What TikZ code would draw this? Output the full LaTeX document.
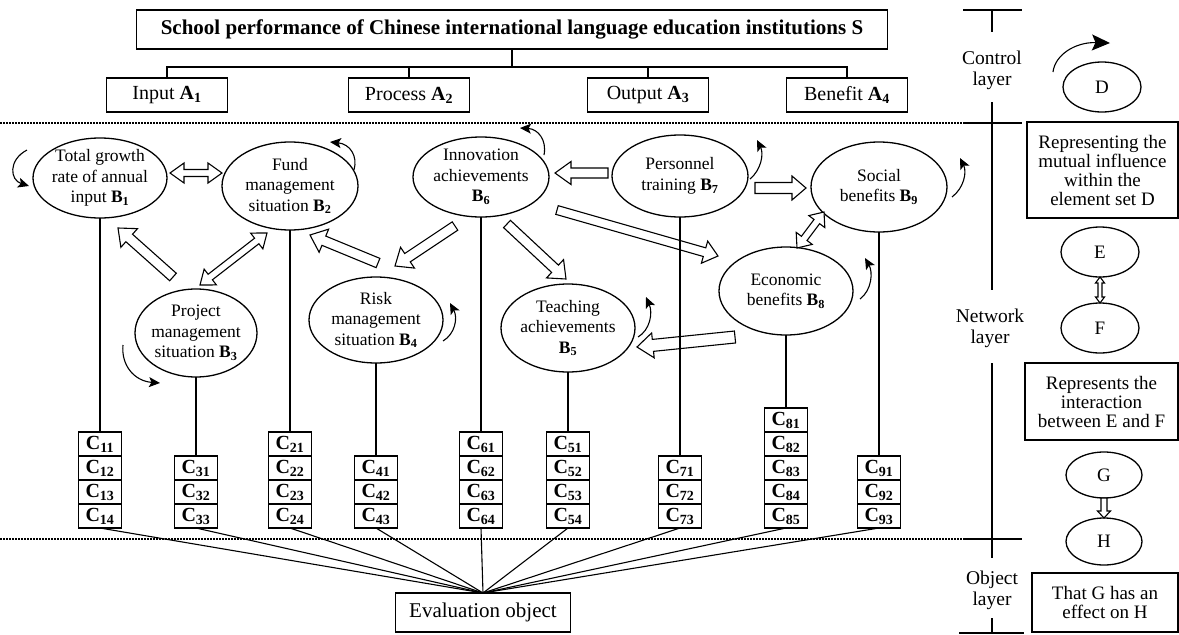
\documentclass[tikz,border=0pt]{standalone}
\usepackage{fontspec}
\setmainfont{Liberation Serif}
\usetikzlibrary{shapes.geometric,calc,arrows.meta}
\newcommand\blkarrow[5]{%
  \coordinate (hh) at ($(#2)!#5!(#1)$);
  \draw[blk] ($(#1)!#3!90:(#2)$) -- ($(hh)!#3!90:(#2)$) -- ($(hh)!#4!90:(#2)$) -- (#2) -- ($(hh)!#4!-90:(#2)$) -- ($(hh)!#3!-90:(#2)$) -- ($(#1)!#3!-90:(#2)$) -- cycle;}
\newcommand\dblarrow[5]{%
  \coordinate (ha) at ($(#1)!#5!(#2)$);
  \coordinate (hb) at ($(#2)!#5!(#1)$);
  \draw[blk] (#1) -- ($(ha)!#4!90:(#2)$) -- ($(ha)!#3!90:(#2)$) -- ($(hb)!#3!90:(#2)$) -- ($(hb)!#4!90:(#2)$) -- (#2) -- ($(hb)!#4!-90:(#2)$) -- ($(hb)!#3!-90:(#2)$) -- ($(ha)!#3!-90:(#2)$) -- ($(ha)!#4!-90:(#2)$) -- cycle;}
\newcommand\Bsub[1]{\textbf{B\textsubscript{#1}}}
\newcommand\Asub[1]{\textbf{A\textsubscript{#1}}}
\begin{document}
\begin{tikzpicture}[x=1pt,y=-1pt,
  every node/.style={inner sep=0pt, outer sep=0pt},
  ell/.style 2 args={draw, ellipse, line width=1.3pt, minimum width=#1pt, minimum height=#2pt},
  etxt/.style={align=center, font=\fontsize{17.5}{20.5}\selectfont},
  abox/.style={draw, line width=1.3pt, minimum width=121pt, minimum height=34pt, font=\fontsize{20}{24}\selectfont},
  cell/.style={draw, line width=1.3pt, minimum width=43pt, minimum height=24pt, font=\fontsize{20}{24}\selectfont\bfseries},
  lbox/.style 2 args={draw, line width=1.3pt, align=center, minimum width=#1pt, minimum height=#2pt, font=\fontsize{19}{19}\selectfont},
  side/.style={align=center, font=\fontsize{19.5}{21}\selectfont},
  lett/.style={font=\fontsize{19}{22}\selectfont},
  blk/.style={draw, fill=white, line width=1.1pt, line join=miter},
  loopar/.style={line width=1.1pt, -{Stealth[length=11pt,width=10pt,inset=2.5pt]}},
  bigloop/.style={line width=1.1pt, -{Stealth[length=18pt,width=16pt,inset=3.5pt]}},
  conn/.style={line width=1.1pt},
  dotl/.style={line width=1.1pt, dash pattern=on 1.5pt off 1.5pt}]
\useasboundingbox (0,0) rectangle (1179,635);

% ---------- control layer ----------
\node[draw, line width=1.3pt, minimum width=751pt, minimum height=39pt, font=\fontsize{21}{24}\selectfont\bfseries] (T) at (512,29.5)
  {School performance of Chinese international language education institutions S};
\node[abox] (A1) at (167,95) {Input \Asub{1}};
\node[abox] (A2) at (409,95) {Process \Asub{2}};
\node[abox] (A3) at (648,95) {Output \Asub{3}};
\node[abox] (A4) at (847,95) {Benefit \Asub{4}};
\coordinate (bar) at (512,67);
\draw[conn] (T.south) -- (bar);
\draw[conn] (A1.north) |- (bar) -| (A4.north);
\draw[conn] (A2.north) -- (A2.north |- bar);
\draw[conn] (A3.north) -- (A3.north |- bar);

% ---------- dotted separators ----------
\coordinate (d1a) at (0,123); \coordinate (d1b) at (963,123);
\coordinate (d2a) at (0,539); \coordinate (d2b) at (963,539);
\draw[dotl] (d1a) -- (d1b);
\draw[dotl] (d2a) -- (d2b);

% ---------- network layer ellipses ----------
\node[ell={134}{80}] (B1) at (100,178) {};
\node[etxt] (B1t) at (B1) {Total growth\\rate of annual\\input \Bsub{1}};
\node[ell={136}{88}] (B2) at (290,186) {};
\node[etxt] (B2t) at (B2) {Fund\\management\\situation \Bsub{2}};
\node[ell={122}{88}] (B3) at (196,333) {};
\node[etxt] (B3t) at (B3) {Project\\management\\situation \Bsub{3}};
\node[ell={134}{86}] (B4) at (376,320) {};
\node[etxt] (B4t) at (B4) {Risk\\management\\situation \Bsub{4}};
\node[ell={134}{88}] (B5) at (568,328) {};
\node[etxt] (B5t) at (B5) {Teaching\\achievements\\\Bsub{5}};
\node[ell={136}{80}] (B6) at (481,177) {};
\node[etxt] (B6t) at (B6) {Innovation\\achievements\\\Bsub{6}};
\node[ell={136}{82}] (B7) at (680,176) {};
\node[etxt] (B7t) at (B7) {Personnel\\training \Bsub{7}};
\node[ell={134}{88}] (B8) at (786,291) {};
\node[etxt] (B8t) at (B8) {Economic\\benefits \Bsub{8}};
\node[ell={136}{90}] (B9) at (879,187) {};
\node[etxt] (B9t) at (B9) {Social\\benefits \Bsub{9}};

% ---------- hollow block arrows ----------
\coordinate (p1a) at (170,173); \coordinate (p1b) at (222,173);
\coordinate (p2a) at (173,277); \coordinate (p2b) at (118,228);
\coordinate (p3a) at (200,285); \coordinate (p3b) at (267,233);
\coordinate (p4a) at (378,263); \coordinate (p4b) at (310,235);
\coordinate (p5a) at (455,226); \coordinate (p5b) at (395,266);
\coordinate (p6a) at (507,224); \coordinate (p6b) at (566,279);
\coordinate (p7a) at (557,210); \coordinate (p7b) at (718,256);
\coordinate (p8a) at (608,173); \coordinate (p8b) at (555,173);
\coordinate (p9a) at (755,188); \coordinate (p9b) at (806,188);
\coordinate (p10a) at (797,248); \coordinate (p10b) at (824,212);
\coordinate (p11a) at (735,337); \coordinate (p11b) at (637,347);
\dblarrow{p1a}{p1b}{3.5pt}{10pt}{14pt}
\blkarrow{p2a}{p2b}{5pt}{12.5pt}{15pt}
\dblarrow{p3a}{p3b}{3.5pt}{10pt}{13pt}
\blkarrow{p4a}{p4b}{5pt}{12.5pt}{15pt}
\blkarrow{p5a}{p5b}{5pt}{12.5pt}{15pt}
\blkarrow{p6a}{p6b}{5pt}{12.5pt}{15pt}
\blkarrow{p7a}{p7b}{4.5pt}{11.5pt}{14pt}
\blkarrow{p8a}{p8b}{5pt}{11.5pt}{16pt}
\blkarrow{p9a}{p9b}{5.5pt}{12pt}{14pt}
\dblarrow{p10a}{p10b}{3.5pt}{10pt}{12pt}
\blkarrow{p11a}{p11b}{6pt}{12.5pt}{16pt}

% ---------- self-influence loops ----------
\coordinate (l1s) at (27,150);  \coordinate (l1e) at (29,186);
\coordinate (l2s) at (354,170); \coordinate (l2e) at (330,142);
\coordinate (l3s) at (123,345); \coordinate (l3e) at (160,383);
\coordinate (l4s) at (443,341); \coordinate (l4e) at (450,303);
\coordinate (l5s) at (638,337); \coordinate (l5e) at (646,297);
\coordinate (l6s) at (544,155); \coordinate (l6e) at (520,128);
\coordinate (l7s) at (750,179); \coordinate (l7e) at (757,140);
\coordinate (l8s) at (860,299); \coordinate (l8e) at (865,258);
\coordinate (l9s) at (952,197); \coordinate (l9e) at (960,158);
\draw[loopar] (l1s) .. controls (8,160) and (10,180) .. (l1e);
\draw[loopar] (l2s) .. controls (358,156) and (350,144) .. (l2e);
\draw[loopar] (l3s) .. controls (121,365) and (134,381) .. (l3e);
\draw[loopar] (l4s) .. controls (455,334) and (458,318) .. (l4e);
\draw[loopar] (l5s) .. controls (650,330) and (653,313) .. (l5e);
\draw[loopar] (l6s) .. controls (547,140) and (538,129) .. (l6e);
\draw[loopar] (l7s) .. controls (761,170) and (764,154) .. (l7e);
\draw[loopar] (l8s) .. controls (872,290) and (873,272) .. (l8e);
\draw[loopar] (l9s) .. controls (964,188) and (967,172) .. (l9e);

% ---------- indicator columns ----------
\foreach \i in {1,...,4} \node[cell] (C1\i) at (100,{420+24*\i}) {C\textsubscript{1\i}};
\foreach \i in {1,...,3} \node[cell] (C3\i) at (196,{444+24*\i}) {C\textsubscript{3\i}};
\foreach \i in {1,...,4} \node[cell] (C2\i) at (290,{420+24*\i}) {C\textsubscript{2\i}};
\foreach \i in {1,...,3} \node[cell] (C4\i) at (376,{444+24*\i}) {C\textsubscript{4\i}};
\foreach \i in {1,...,4} \node[cell] (C6\i) at (481,{420+24*\i}) {C\textsubscript{6\i}};
\foreach \i in {1,...,4} \node[cell] (C5\i) at (568,{420+24*\i}) {C\textsubscript{5\i}};
\foreach \i in {1,...,3} \node[cell] (C7\i) at (680,{444+24*\i}) {C\textsubscript{7\i}};
\foreach \i in {1,...,5} \node[cell] (C8\i) at (786,{396+24*\i}) {C\textsubscript{8\i}};
\foreach \i in {1,...,3} \node[cell] (C9\i) at (879,{444+24*\i}) {C\textsubscript{9\i}};

\draw[conn] (B1.south) -- (C11.north);
\draw[conn] (B3.south) -- (C31.north);
\draw[conn] (B2.south) -- (C21.north);
\draw[conn] (B4.south) -- (C41.north);
\draw[conn] (B6.south) -- (C61.north);
\draw[conn] (B5.south) -- (C51.north);
\draw[conn] (B7.south) -- (C71.north);
\draw[conn] (B8.south) -- (C81.north);
\draw[conn] (B9.south) -- (C91.north);

% ---------- object layer ----------
\node[draw, line width=1.3pt, minimum width=175pt, minimum height=39pt, font=\fontsize{21}{24}\selectfont] (EV) at (483,612.5) {Evaluation object};
\foreach \c in {C14,C33,C24,C43,C64,C54,C73,C85,C93}
  \draw[conn] (\c.south) -- (EV.north);

% ---------- layer scale ----------
\coordinate (s0l) at (963,10);  \coordinate (s0r) at (1022,10);
\coordinate (s1r) at (1022,123);
\coordinate (s2r) at (1022,539);
\coordinate (s3l) at (959,633); \coordinate (s3r) at (1024,633);
\coordinate (v0) at (992,10);  \coordinate (v1) at (992,32);
\coordinate (v2) at (992,102); \coordinate (v3) at (992,290);
\coordinate (v4) at (992,363); \coordinate (v5) at (992,558);
\coordinate (v6) at (992,618); \coordinate (v7) at (992,633);
\draw[conn] (s0l) -- (s0r);
\draw[conn] (d1b) -- (s1r);
\draw[conn] (d2b) -- (s2r);
\draw[conn] (s3l) -- (s3r);
\draw[conn] (v0) -- (v1);
\draw[conn] (v2) -- (v3);
\draw[conn] (v4) -- (v5);
\draw[conn] (v6) -- (v7);
\node[side] (ctl) at (992,70) {Control\\layer};
\node[side] (net) at (990,328) {Network\\layer};
\node[side] (obj) at (992,590) {Object\\layer};

% ---------- legend ----------
\node[ell={78}{50}, lett] (D) at (1102,87) {D};
\coordinate (lds) at (1053,72); \coordinate (lde) at (1110,43);
\draw[bigloop] (lds) .. controls (1055,55) and (1075,42) .. (lde);
\node[lbox={151}{96}] (L1) at (1102.5,170) {Representing the\\mutual influence\\within the\\element set D};
\node[ell={78}{50}, lett] (E) at (1100,252) {E};
\node[ell={78}{50}, lett] (F) at (1100,328) {F};
\dblarrow{E.south}{F.north}{2pt}{4.5pt}{6pt}
\node[lbox={153}{77}] (L2) at (1101.5,401.5) {Represents the\\interaction\\between E and F};
\node[ell={76}{46}, lett] (G) at (1104,475) {G};
\node[ell={76}{47}, lett] (H) at (1104,541.5) {H};
\blkarrow{G.south}{H.north}{3pt}{6.5pt}{7pt}
\node[lbox={146}{59}] (L3) at (1105,602.5) {That G has an\\effect on H};
\end{tikzpicture}
\end{document}
